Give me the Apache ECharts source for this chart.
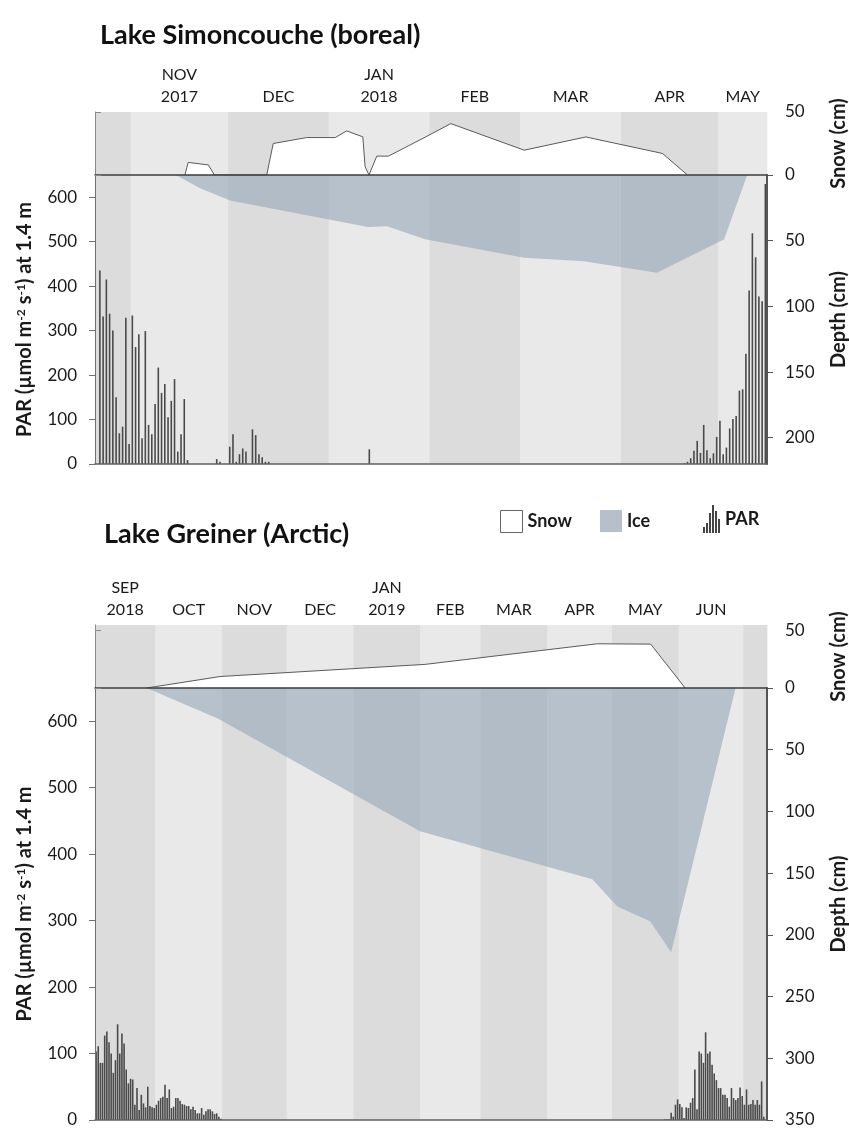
<!DOCTYPE html>
<html>
<head>
<meta charset="utf-8">
<script src="https://cdn.jsdelivr.net/npm/echarts@6/dist/echarts.min.js"></script>
<style>
  html, body { margin: 0; padding: 0; background: #fff; }
  #chart { width: 849px; height: 1128px; }
</style>
</head>
<body>
<div id="chart"></div>
<script>
// Lake Simoncouche — x is days from 21 Oct 2017
const simMonthStarts = [0, 11, 41, 72, 103, 131, 162, 192, 207];
const simMonthLabels = ['', 'NOV\n2017', 'DEC', 'JAN\n2018', 'FEB', 'MAR', 'APR', 'MAY'];
const simSnow = [[27.7, 0], [28.7, 10], [34.9, 8], [36.8, 0], [52.9, 0], [54.9, 25], [65.2, 29.7], [74, 29.7],
  [77.5, 35], [82.5, 30.3], [83.2, 6.6], [84.4, 0], [86.8, 15], [90.4, 15], [101.7, 30], [109.6, 40.8],
  [132.2, 19.7], [151.2, 30.2], [174.8, 17.1], [182.5, 0]];
const simIce = [[24.9, 0], [32.4, 10], [41.6, 19.5], [84.1, 39.6], [89.9, 39], [101.7, 49], [132.2, 63],
  [150.6, 65.6], [173.1, 74.5], [193.8, 49], [200.9, 0]];
const simParAutumnStart = 1;
const simParAutumn = [435, 332, 415, 338, 300, 150, 69, 84, 329, 45, 334, 263, 292, 58, 299, 88, 67, 135,
  217, 160, 180, 105, 142, 191, 28, 67, 146, 9, 0, 0, 0, 0, 0, 0, 0, 0, 11, 5, 0, 0, 39, 67, 5, 22, 35, 28,
  0, 78, 65, 22, 15, 5, 5];
const simParJan = [[84, 33]];
const simParSpringStart = 181;
const simParSpring = [2, 5, 13, 30, 52, 25, 88, 31, 13, 24, 61, 97, 22, 37, 80, 101, 108, 165, 168, 248,
  390, 519, 465, 377, 366, 630];

// Lake Greiner — x is days from 3 Sep 2018
const greMonthStarts = [0, 28, 59, 89, 120, 151, 179, 210, 240, 271, 301, 312];
const greMonthLabels = ['SEP\n2018', 'OCT', 'NOV', 'DEC', 'JAN\n2019', 'FEB', 'MAR', 'APR', 'MAY', 'JUN', ''];
const greSnow = [[24, 0], [58, 10], [153.2, 20.6], [233.2, 38.6], [258, 38.3], [274, 0]];
const greIce = [[24, 0], [57.2, 25], [150.9, 116], [230.9, 155], [242.5, 177], [257.7, 189], [267.5, 214], [297.4, 0]];
const greParAutumnStart = 0;
const greParAutumn = [103, 111, 86, 86, 127, 133, 117, 100, 71, 90, 144, 100, 130, 115, 76, 55, 62, 61, 23,
  48, 15, 38, 25, 19, 50, 21, 19, 18, 23, 29, 33, 35, 53, 33, 46, 18, 20, 33, 33, 29, 24, 23, 21, 21, 16,
  20, 15, 10, 10, 18, 8, 13, 16, 16, 13, 9, 10, 5, 2];
const greParSpringStart = 264;
const greParSpring = [1, 1, 1, 11, 5, 23, 31, 24, 19, 3, 19, 18, 26, 33, 76, 16, 103, 100, 86, 132, 100, 103,
  83, 70, 60, 48, 48, 38, 38, 33, 20, 48, 33, 30, 33, 49, 36, 23, 46, 23, 24, 30, 23, 30, 23, 58, 5];

const parTicks = [0, 100, 200, 300, 400, 500, 600];
const snowTicks = [0, 50];
const simDepthTicks = [50, 100, 150, 200];
const greDepthTicks = [50, 100, 150, 200, 250, 300, 350];

const FONT = 'Lato';
const ink = '#1a1a1a';
const iceColor = 'rgba(150,166,184,0.6)';

const chart = echarts.init(document.getElementById('chart'));

function monthBands(starts) {
  const out = [];
  for (let i = 0; i < starts.length - 1; i++) out.push([starts[i], starts[i + 1]]);
  return out;
}
function dailyBars(start, vals) {
  return vals.map((v, i) => [start + i + 0.5, v]);
}

function bandSeries(xi, yi, starts, labels) {
  return {
    type: 'custom', xAxisIndex: xi, yAxisIndex: yi, z: 0, silent: true, clip: false,
    data: monthBands(starts),
    encode: { x: [0, 1] },
    renderItem: function (params, api) {
      const cs = params.coordSys;
      const x0 = api.coord([api.value(0), 0])[0];
      const x1 = api.coord([api.value(1), 0])[0];
      const kids = [{
        type: 'rect',
        shape: { x: x0, y: cs.y, width: x1 - x0 + 0.4, height: cs.height },
        style: { fill: params.dataIndex % 2 === 0 ? '#dcdcdc' : '#e9e9e9' }
      }];
      const txt = labels ? labels[params.dataIndex] : '';
      if (txt) {
        kids.push({
          type: 'text',
          style: {
            text: txt, x: (x0 + x1) / 2, y: cs.y - 4, align: 'center', verticalAlign: 'bottom',
            fontSize: 16, fontFamily: FONT, fill: ink, lineHeight: 22
          }
        });
      }
      return { type: 'group', children: kids };
    }
  };
}

function xAx(gi, max, color, width) {
  return {
    type: 'value', gridIndex: gi, min: 0, max: max, position: 'bottom', z: 5,
    axisLine: { show: true, onZero: false, lineStyle: { color: color, width: width } },
    axisTick: { show: false }, axisLabel: { show: false }, splitLine: { show: false }
  };
}

const nameStyle = { fontFamily: FONT, fontWeight: 'bold', fontSize: 20, color: ink };
const labStyle = { fontFamily: FONT, fontSize: 17, color: ink, margin: 18 };

function snowAx(gi, max) {
  return {
    type: 'value', gridIndex: gi, position: 'right', min: 0, max: max, z: 5,
    axisLine: { show: true, lineStyle: { color: '#8a8a8a', width: 1 } },
    axisTick: { show: true, length: 6, customValues: snowTicks, lineStyle: { color: '#8a8a8a' } },
    axisLabel: Object.assign({ customValues: snowTicks }, labStyle),
    splitLine: { show: false },
    name: 'Snow (cm)', nameLocation: 'middle', nameRotate: 90, nameGap: 62, nameMoveOverlap: false,
    nameTextStyle: nameStyle
  };
}
function parAx(gi) {
  return {
    type: 'value', gridIndex: gi, position: 'left', min: 0, max: 650, z: 5,
    axisLine: { show: true, lineStyle: { color: '#707070', width: 1 } },
    axisTick: { show: true, length: 6, customValues: parTicks, lineStyle: { color: '#707070' } },
    axisLabel: Object.assign({ customValues: parTicks }, labStyle),
    splitLine: { show: false },
    name: 'PAR (µmol m{sup|-2} s{sup|-1}) at 1.4 m', nameLocation: 'middle', nameRotate: 90, nameGap: 60,
    nameMoveOverlap: false,
    nameTextStyle: Object.assign({
      rich: { sup: { fontFamily: FONT, fontWeight: 'bold', fontSize: 12, color: ink, verticalAlign: 'top', padding: [0, 0, 8, 0] } }
    }, nameStyle)
  };
}
function depthAx(gi, max, ticks) {
  return {
    type: 'value', gridIndex: gi, position: 'right', min: 0, max: max, inverse: true, z: 5,
    axisLine: { show: true, lineStyle: { color: '#555', width: 2 } },
    axisTick: { show: true, length: 6, customValues: [0].concat(ticks), lineStyle: { color: '#555' } },
    axisLabel: Object.assign({ customValues: ticks }, labStyle),
    splitLine: { show: false },
    name: 'Depth (cm)', nameLocation: 'middle', nameRotate: 90, nameGap: 62, nameMoveOverlap: false,
    nameTextStyle: nameStyle
  };
}

function snowSeries(xi, yi, data) {
  return {
    name: 'Snow', type: 'line', xAxisIndex: xi, yAxisIndex: yi, z: 2, data: data,
    showSymbol: false, symbol: 'none', silent: true,
    lineStyle: { color: '#5a5a5a', width: 1 },
    areaStyle: { color: '#ffffff', opacity: 1 }
  };
}
function iceSeries(xi, yi, data) {
  return {
    name: 'Ice', type: 'line', xAxisIndex: xi, yAxisIndex: yi, z: 2, data: data,
    showSymbol: false, symbol: 'none', silent: true,
    lineStyle: { width: 0 },
    areaStyle: { color: iceColor, opacity: 1 }
  };
}
function parSeries(xi, yi, data) {
  return {
    name: 'PAR', type: 'bar', xAxisIndex: xi, yAxisIndex: yi, z: 3, data: data,
    barWidth: 1.6, silent: true,
    itemStyle: { color: '#4a4a4a' }
  };
}

const simPar = dailyBars(simParAutumnStart, simParAutumn)
  .concat(simParJan.map(p => [p[0] + 0.5, p[1]]))
  .concat(dailyBars(simParSpringStart, simParSpring));
const grePar = dailyBars(greParAutumnStart, greParAutumn)
  .concat(dailyBars(greParSpringStart, greParSpring));

const legendText = { fontFamily: FONT, fontWeight: 'bold', fontSize: 18, color: ink };

chart.setOption({
  animation: false,
  backgroundColor: '#ffffff',
  title: [
    { text: 'Lake Simoncouche (boreal)', left: 100, top: 22, padding: 0,
      textStyle: { fontFamily: FONT, fontWeight: 'bold', fontSize: 27, color: '#111' } },
    { text: 'Lake Greiner (Arctic)', left: 104, top: 521, padding: 0,
      textStyle: { fontFamily: FONT, fontWeight: 'bold', fontSize: 27, color: '#111' } }
  ],
  legend: [
    { left: 500, top: 510, padding: 0, itemWidth: 22, itemHeight: 22, selectedMode: false, textStyle: legendText,
      data: [{ name: 'Snow', icon: 'rect', itemStyle: { color: '#fff', borderColor: '#666', borderWidth: 1 } }] },
    { left: 600, top: 510, padding: 0, itemWidth: 22, itemHeight: 22, selectedMode: false, textStyle: legendText,
      data: [{ name: 'Ice', icon: 'rect', itemStyle: { color: '#b7c0ca', borderWidth: 0 } }] },
    { left: 703, top: 505, padding: 0, itemWidth: 17, itemHeight: 28, selectedMode: false, textStyle: legendText,
      data: [{ name: 'PAR', itemStyle: { color: '#444', borderWidth: 0 },
        icon: 'path://M0,22h2v6h-2z M3,18h2v10h-2z M6,8h2v20h-2z M9,0h2v28h-2z M12,6h2v22h-2z M15,14h2v14h-2z' }] }
  ],
  grid: [
    { left: 95, top: 112, width: 672, height: 63, containLabel: false, outerBoundsMode: 'none' },
    { left: 95, top: 175, width: 672, height: 289, containLabel: false, outerBoundsMode: 'none' },
    { left: 95, top: 625, width: 672, height: 63, containLabel: false, outerBoundsMode: 'none' },
    { left: 95, top: 688, width: 672, height: 432, containLabel: false, outerBoundsMode: 'none' }
  ],
  xAxis: [
    xAx(0, 207, '#3c3c3c', 1.5),
    xAx(1, 207, '#606060', 1.5),
    xAx(2, 312, '#3c3c3c', 1.5),
    xAx(3, 312, '#606060', 1.5)
  ],
  yAxis: [
    snowAx(0, 50),
    parAx(1),
    depthAx(1, 220, simDepthTicks),
    snowAx(2, 55),
    parAx(3),
    depthAx(3, 350, greDepthTicks)
  ],
  series: [
    bandSeries(0, 0, simMonthStarts, simMonthLabels),
    bandSeries(1, 1, simMonthStarts, null),
    snowSeries(0, 0, simSnow),
    iceSeries(1, 2, simIce),
    parSeries(1, 1, simPar),
    bandSeries(2, 3, greMonthStarts, greMonthLabels),
    bandSeries(3, 4, greMonthStarts, null),
    snowSeries(2, 3, greSnow),
    iceSeries(3, 5, greIce),
    parSeries(3, 4, grePar)
  ]
});
</script>
</body>
</html>
